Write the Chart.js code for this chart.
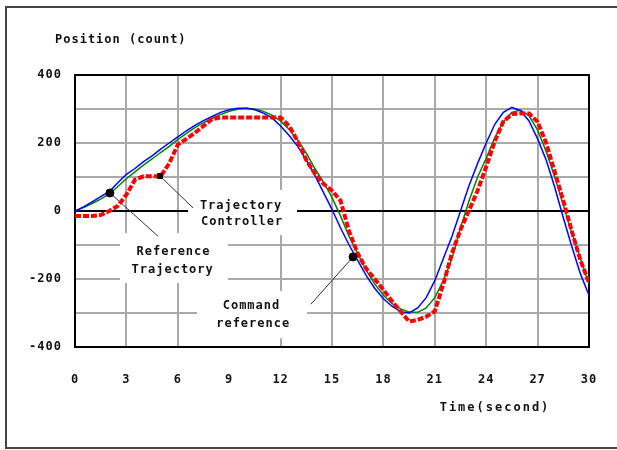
<!DOCTYPE html>
<html>
<head>
<meta charset="utf-8">
<script src="https://cdn.jsdelivr.net/npm/chart.js@4.4.1/dist/chart.umd.min.js"></script>
<style>
  body { margin: 0; background: #fff; }
  #wrap { width: 617px; height: 450px; }
</style>
</head>
<body>
<div id="wrap"><canvas id="posChart" width="617" height="450"></canvas></div>
<script>
// sample times (seconds)
const times = [0, 0.5, 1, 1.5, 2, 2.5, 3, 3.5, 4, 4.5, 5, 5.5, 6, 6.5, 7, 7.5, 8, 8.5, 9, 9.5,
  10, 10.5, 11, 11.5, 12, 12.5, 13, 13.5, 14, 14.5, 15, 15.5, 16, 16.5, 17, 17.5, 18, 18.5, 19, 19.5,
  20, 20.5, 21, 21.5, 22, 22.5, 23, 23.5, 24, 24.5, 25, 25.5, 26, 26.5, 27, 27.5, 28, 28.5, 29, 29.5, 30];

// position (count)
const commandRef = [0, 12, 27, 42, 57, 83, 108, 125, 145, 162, 182, 200, 218, 236, 252, 266, 278, 290, 298, 302,
  302, 298, 288, 274, 250, 222, 190, 150, 105, 55, 5, -50, -100, -145, -190, -228, -258, -280, -296, -300,
  -285, -255, -205, -140, -75, 0, 75, 140, 200, 255, 290, 305, 295, 265, 212, 150, 70, -20, -105, -185, -248];

const refTrajectory = [0, 10, 22, 35, 50, 72, 95, 115, 135, 153, 172, 190, 210, 228, 245, 260, 272, 284, 293, 299,
  302, 300, 293, 282, 265, 240, 208, 170, 125, 85, 40, -15, -75, -125, -175, -215, -248, -272, -288, -297,
  -298, -285, -255, -205, -140, -50, 30, 100, 155, 215, 262, 290, 297, 280, 238, 175, 100, 18, -65, -140, -215];

const trajController = [-15, -15, -15, -12, 0, 15, 48, 92, 102, 102, 102, 140, 195, 212, 230, 250, 270, 275, 275, 275,
  275, 275, 275, 275, 275, 250, 205, 150, 110, 80, 60, 30, -60, -125, -170, -200, -232, -265, -295, -325,
  -320, -311, -295, -215, -125, -55, 2, 60, 130, 205, 263, 285, 287, 287, 262, 200, 115, 30, -60, -145, -210];

const xTicks = [0, 3, 6, 9, 12, 15, 18, 21, 24, 27, 30];
const yLabels = [-400, -200, 0, 200, 400];

// callouts: marker on a curve, leader end, text box and text lines (data units)
const callouts = [
  { marker: [4.96, 103], style: 'rect', leader: [6.89, 9],
    box: [6.6, 62, 12.96, -71], lines: [['Trajectory', 9.69, 16], ['Controller', 9.75, -31]] },
  { marker: [2.04, 53], style: 'circle', leader: [4.84, -74],
    box: [2.63, -65, 8.93, -212], lines: [['Reference', 5.75, -120], ['Trajectory', 5.7, -174]] },
  { marker: [16.23, -135], style: 'circle', leader: [13.77, -274],
    box: [7.12, -235, 13.54, -374], lines: [['Command', 10.3, -279], ['reference', 10.4, -332]] }
];

const monoFont = 'DejaVu Sans Mono';

function series(values) {
  return times.map((t, i) => ({ x: t, y: values[i] }));
}

const decor = {
  id: 'decor',
  beforeDraw(chart) {
    const ctx = chart.ctx;
    ctx.save();
    ctx.fillStyle = '#fff';
    ctx.fillRect(0, 0, chart.width, chart.height);
    ctx.restore();
    ctx.letterSpacing = '1px';
  },
  beforeDatasetsDraw(chart) {
    const { ctx, chartArea: a, scales: { x, y } } = chart;
    ctx.save();
    // white boxes under the callout text (they cut the grid)
    ctx.fillStyle = '#fff';
    callouts.forEach(c => {
      const l = x.getPixelForValue(c.box[0]), r = x.getPixelForValue(c.box[2]);
      const t = y.getPixelForValue(c.box[1]), b = y.getPixelForValue(c.box[3]);
      ctx.fillRect(l, t, r - l, b - t);
    });
    // plot frame
    ctx.strokeStyle = '#000';
    ctx.lineWidth = 2;
    ctx.strokeRect(a.left, a.top, a.right - a.left, a.bottom - a.top);
    ctx.restore();
  },
  afterDatasetsDraw(chart) {
    const { ctx, scales: { x, y } } = chart;
    ctx.save();
    ctx.fillStyle = '#111';
    ctx.font = 'bold 12px ' + monoFont;
    ctx.letterSpacing = '1px';
    ctx.textAlign = 'center';
    ctx.textBaseline = 'middle';
    callouts.forEach(c => {
      c.lines.forEach(([txt, t, v]) => {
        ctx.fillText(txt, x.getPixelForValue(t), y.getPixelForValue(v));
      });
    });
    ctx.restore();
  },
  afterDraw(chart) {
    const ctx = chart.ctx;
    ctx.save();
    ctx.fillStyle = '#111';
    ctx.font = 'bold 12px ' + monoFont;
    ctx.textBaseline = 'middle';
    ctx.letterSpacing = '1px';
    ctx.textAlign = 'left';
    ctx.fillText('Position (count)', 55, 40);
    ctx.letterSpacing = '2px';
    ctx.textAlign = 'center';
    ctx.fillText('Time(second)', 495, 408);
    // outer frame
    ctx.strokeStyle = '#444';
    ctx.lineWidth = 2;
    ctx.strokeRect(6, 7, 700, 441);
    ctx.restore();
  }
};

const datasets = [
  {
    label: 'markers',
    data: callouts.map(c => ({ x: c.marker[0], y: c.marker[1] })),
    showLine: false,
    pointStyle: callouts.map(c => c.style),
    pointRadius: callouts.map(c => c.style === 'rect' ? 3.5 : 4),
    backgroundColor: '#000',
    borderColor: '#000'
  },
  {
    label: 'Trajectory Controller',
    data: series(trajController),
    borderColor: '#ff0000',
    borderWidth: 4,
    borderDash: [6, 2],
    pointRadius: 0
  },
  {
    label: 'Command reference',
    data: series(commandRef),
    borderColor: '#0000ff',
    borderWidth: 1.5,
    pointRadius: 0
  },
  {
    label: 'Reference Trajectory',
    data: series(refTrajectory),
    borderColor: '#008000',
    borderWidth: 1.5,
    pointRadius: 0
  }
];

// leader lines from the markers to the callout text
callouts.forEach(c => {
  datasets.push({
    label: 'leader',
    data: [{ x: c.marker[0], y: c.marker[1] }, { x: c.leader[0], y: c.leader[1] }],
    borderColor: '#333',
    borderWidth: 1,
    pointRadius: 0
  });
});

new Chart(document.getElementById('posChart'), {
  type: 'line',
  data: { datasets: datasets },
  options: {
    responsive: false,
    animation: false,
    layout: { padding: { left: 0, top: 75, right: 28, bottom: 0 } },
    plugins: {
      legend: { display: false },
      tooltip: { enabled: false }
    },
    elements: { line: { tension: 0 } },
    scales: {
      x: {
        type: 'linear',
        min: 0,
        max: 30,
        afterFit: s => { s.height = 103; s.paddingLeft = 0; s.paddingRight = 0; },
        afterBuildTicks: s => { s.ticks = xTicks.map(v => ({ value: v })); },
        ticks: {
          color: '#111',
          font: { family: monoFont, size: 12, weight: 'bold' },
          padding: 26,
          maxRotation: 0,
          callback: v => String(v)
        },
        grid: {
          drawTicks: false,
          lineWidth: 2,
          color: c => c.tick && c.tick.value === 9 ? 'rgba(0,0,0,0)' : '#a9a9a9'
        },
        border: { display: false }
      },
      y: {
        min: -400,
        max: 400,
        afterFit: s => { s.width = 75; s.paddingTop = 0; s.paddingBottom = 0; },
        ticks: {
          stepSize: 100,
          color: '#111',
          font: { family: monoFont, size: 12, weight: 'bold' },
          padding: 13,
          callback: v => yLabels.includes(v) ? String(v) : ''
        },
        grid: {
          drawTicks: false,
          lineWidth: 2,
          color: c => c.tick && c.tick.value === 0 ? '#000' : '#a9a9a9'
        },
        border: { display: false }
      }
    }
  },
  plugins: [decor]
});
</script>
</body>
</html>
